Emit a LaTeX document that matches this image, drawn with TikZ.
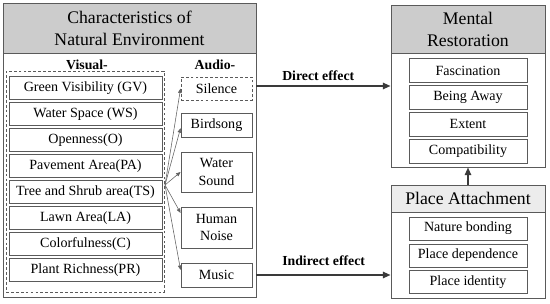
\documentclass[tikz,border=0pt]{standalone}
\usepackage{fontspec}
\setmainfont{Liberation Serif}
\usepackage{xcolor}
\usetikzlibrary{arrows.meta}
\definecolor{NEHead}{HTML}{CCCCCC}
\definecolor{NEHeadLight}{HTML}{ECECEC}
\definecolor{NELine}{HTML}{5A5A5A}
\definecolor{NEArrow}{HTML}{3A3A3A}

\begin{document}
\begin{tikzpicture}[x=1cm,y=1cm,
  framebox/.style={draw=NELine,line width=0.7pt,inner sep=0pt},
  headbox/.style={draw=NELine,line width=0.7pt,fill=NEHead,align=center,inner sep=0pt,font=\fontsize{12.6}{15.6}\selectfont},
  itembox/.style={draw=NELine,line width=0.6pt,minimum width=3.825cm,minimum height=0.575cm,inner sep=0pt,font=\fontsize{10}{12.4}\selectfont},
  audiobox/.style={itembox,minimum width=1.775cm,align=center},
  restbox/.style={itembox,minimum width=2.95cm},
  dashbox/.style={dash pattern=on 2pt off 1.5pt},
  grouplabel/.style={font=\bfseries\fontsize{9.8}{11}\selectfont,inner sep=0pt},
  fanarrow/.style={draw=NEArrow!80,line width=0.4pt,-{Triangle[length=3.2pt,width=2.6pt]}},
  effectarrow/.style={draw=NEArrow,line width=1.1pt,-{Triangle[length=5.5pt,width=4.6pt]}}]
\path[use as bounding box] (0,0) rectangle (13.75,7.60);
% natural environment
\node[framebox,minimum width=6.325cm,minimum height=7.325cm] (natenv) at (3.2375,3.8375) {};
\node[headbox,minimum width=6.325cm,minimum height=1.225cm] (natenvhead) at (3.2375,6.8875) {Characteristics of\\Natural Environment};
\node[grouplabel] (visuallbl) at (2.175,5.975) {Visual-};
\node[grouplabel] (audiolbl) at (5.375,5.975) {Audio-};
\node[draw=NELine,line width=0.6pt,dashbox,minimum width=3.95cm,minimum height=5.525cm,inner sep=0pt] (visual) at (2.125,3.0625) {};
\node[itembox] (gv) at (2.1375,5.39) {Green Visibility (GV)};
\node[itembox] (ws) at (2.1375,4.74) {Water Space (WS)};
\node[itembox] (op) at (2.1375,4.09) {Openness(O)};
\node[itembox] (pa) at (2.1375,3.44) {Pavement Area(PA)};
\node[itembox] (ts) at (2.1375,2.79) {Tree and Shrub area(TS)};
\node[itembox] (la) at (2.1375,2.14) {Lawn Area(LA)};
\node[itembox] (cf) at (2.1375,1.49) {Colorfulness(C)};
\node[itembox] (pr) at (2.1375,0.84) {Plant Richness(PR)};
\node[audiobox,dashbox] (silence) at (5.4125,5.3875) {Silence};
\node[audiobox,minimum height=0.6cm] (birdsong) at (5.4125,4.475) {Birdsong};
\node[audiobox,minimum height=1.0cm] (watersound) at (5.4125,3.30) {Water\\Sound};
\node[audiobox,minimum height=1.025cm] (humannoise) at (5.4125,1.9125) {Human\\Noise};
\node[audiobox,minimum height=0.6cm] (music) at (5.4125,0.725) {Music};
\coordinate (fan) at (4.125,2.975);
\draw[fanarrow] (fan) -- (silence.west);
\draw[fanarrow] (fan) -- (birdsong.185);
\draw[fanarrow] (fan) -- (watersound.west);
\draw[fanarrow] (fan) -- (humannoise.158);
\draw[fanarrow] (fan) -- (music.172);
% mental restoration
\node[framebox,minimum width=3.85cm,minimum height=4.05cm] (mental) at (11.70,5.45) {};
\node[headbox,minimum width=3.85cm,minimum height=1.2cm] (mentalhead) at (11.70,6.875) {Mental\\Restoration};
\node[restbox,minimum height=0.6cm] (fascination) at (11.70,5.83) {Fascination};
\node[restbox,minimum height=0.6cm] (beingaway) at (11.70,5.16) {Being Away};
\node[restbox,minimum height=0.6cm] (extent) at (11.70,4.49) {Extent};
\node[restbox,minimum height=0.6cm] (compat) at (11.70,3.82) {Compatibility};
% place attachment
\node[framebox,minimum width=3.85cm,minimum height=2.825cm] (place) at (11.70,1.5625) {};
\node[headbox,fill=NEHeadLight,minimum width=3.85cm,minimum height=0.675cm] (placehead) at (11.70,2.6375) {Place Attachment};
\node[restbox] (bonding) at (11.70,1.8875) {Nature bonding};
\node[restbox] (dependence) at (11.70,1.2125) {Place dependence};
\node[restbox] (identity) at (11.70,0.55) {Place identity};
% effects
\draw[effectarrow] (natenv.east |- mental.west) -- (mental.west);
\node[grouplabel,anchor=west] (directlbl) at (7.05,5.70) {Direct effect};
\draw[effectarrow] (natenv.east |- music) -- (place.west |- music);
\node[grouplabel,anchor=west] (indirectlbl) at (7.05,1.075) {Indirect effect};
\draw[effectarrow] (placehead.north) -- (mental.south);
\end{tikzpicture}
\end{document}
